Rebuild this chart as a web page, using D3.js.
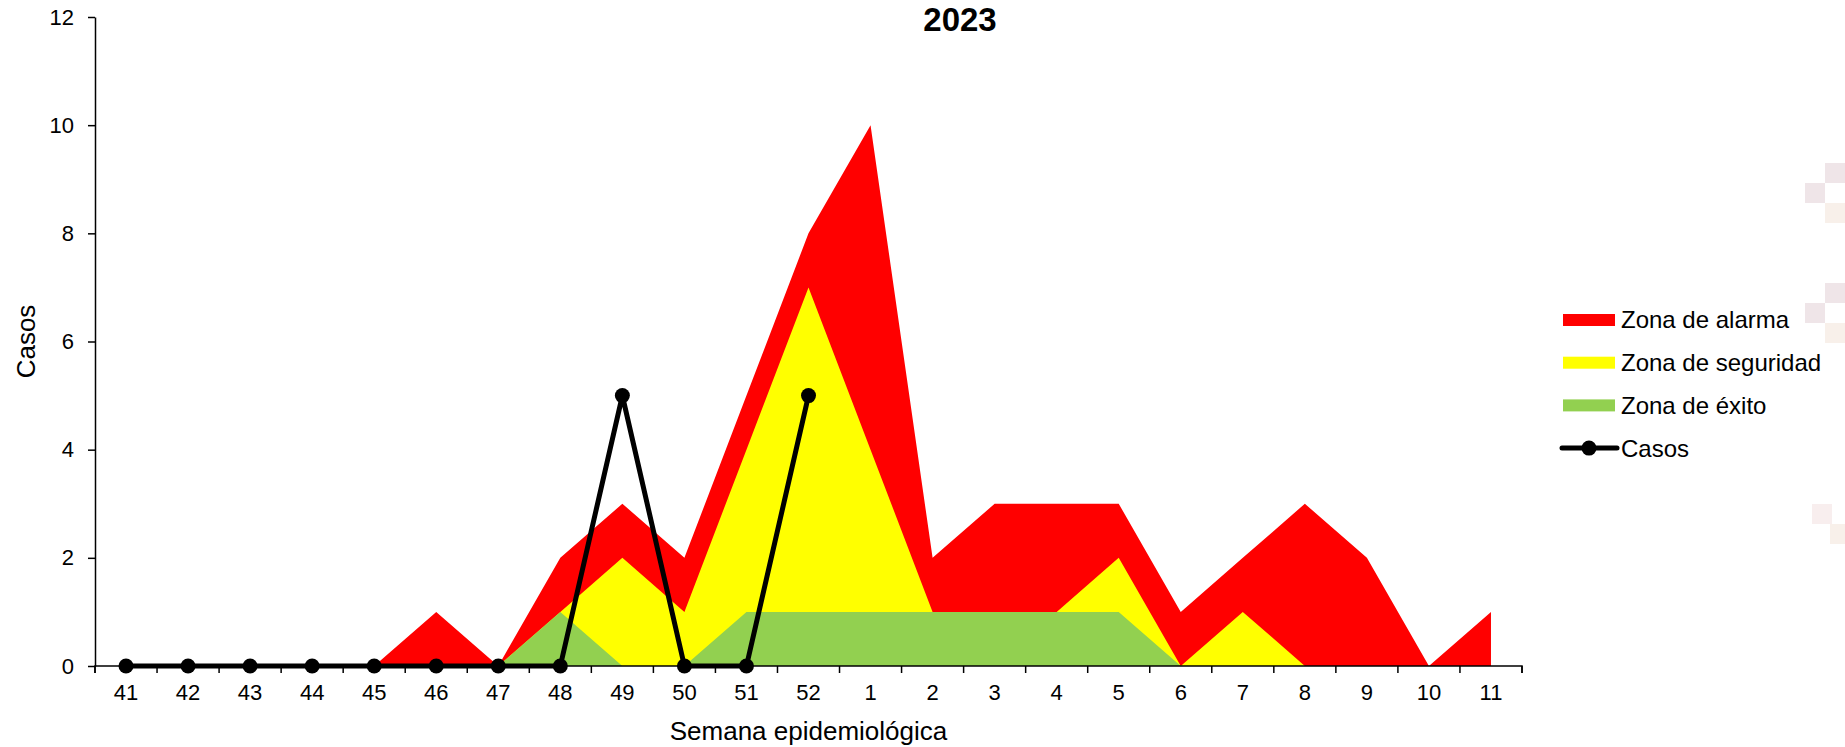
<!DOCTYPE html>
<html>
<head>
<meta charset="utf-8">
<script src="https://cdn.jsdelivr.net/npm/d3@7"></script>
<style>
  html, body { margin: 0; padding: 0; background: #fff; }
  svg { display: block; font-family: "Liberation Sans", Arial, sans-serif; }
</style>
</head>
<body>
<svg id="chart" width="1845" height="747"></svg>
<script>
const weeks = ["41","42","43","44","45","46","47","48","49","50","51","52","1","2","3","4","5","6","7","8","9","10","11"];
const alarma    = [0,0,0,0,0,1,0,2,3,2,5,8,10,2,3,3,3,1,2,3,2,0,1];
const seguridad = [0,0,0,0,0,0,0,1,2,1,4,7,4,1,1,1,2,0,1,0,0,0,0];
const exito     = [0,0,0,0,0,0,0,1,0,0,1,1,1,1,1,1,1,0,0,0,0,0,0];
const casos     = [0,0,0,0,0,0,0,0,5,0,0,5,null,null,null,null,null,null,null,null,null,null,null];
const yTicks = [0,2,4,6,8,10,12];
const title = "2023";
const xTitle = "Semana epidemiológica";
const yTitle = "Casos";
const legendLabels = ["Zona de alarma","Zona de seguridad","Zona de éxito","Casos"];

(function(){
const FONT = '"Liberation Sans", Arial, sans-serif';
const svg = d3.select("#chart");
const mL = 95, mR = 1522, mT = 17, mB = 666;

// faint watermark squares on right edge
const wm = [
  [1825,163,"#efe5e8"],[1805,183,"#efe5e8"],[1825,203,"#f8f0ea"],
  [1825,283,"#efe5e8"],[1805,303,"#efe5e8"],[1825,323,"#f8f0ea"],
  [1812,504,"#f8eeee"],[1830,524,"#f8f0ea"]
];
svg.selectAll("rect.wm").data(wm).enter().append("rect")
  .attr("class","wm").attr("x",d=>d[0]).attr("y",d=>d[1])
  .attr("width",20).attr("height",20).attr("fill",d=>d[2]);

const x = d3.scaleBand().domain(weeks).range([mL, mR]).padding(0);
const xc = w => x(w) + x.bandwidth()/2;
const y = d3.scaleLinear().domain([0,12]).range([mB, mT]);

function area(vals, color) {
  const a = d3.area()
    .x((d,i) => xc(weeks[i]))
    .y0(y(0))
    .y1(d => y(d));
  svg.append("path").datum(vals).attr("d", a).attr("fill", color);
}
area(alarma, "#FF0000");
area(seguridad, "#FFFF00");
area(exito, "#92D050");

// axes
const xAxis = d3.axisBottom(x).tickSize(7).tickSizeOuter(7).tickFormat(d=>d);
const gx = svg.append("g").attr("transform", `translate(0,${mB})`).call(xAxis)
  .attr("font-family", FONT).attr("font-size", 22);
gx.selectAll(".tick line").attr("x1", -x.bandwidth()/2).attr("x2", -x.bandwidth()/2)
  .attr("stroke","#000").attr("stroke-width",1.5);
gx.append("line").attr("x1", mR).attr("x2", mR).attr("y1",0).attr("y2",7)
  .attr("stroke","#000").attr("stroke-width",1.5);
gx.selectAll(".tick text").attr("font-size", 22).attr("fill","#000").attr("y", 13).attr("dy","0.95em");
gx.select(".domain").attr("stroke","#000").attr("stroke-width",1.5).attr("d", `M${mL},7V0H${mR}V7`);

const yAxis = d3.axisLeft(y).tickValues(yTicks).tickSize(7).tickSizeOuter(0);
const gy = svg.append("g").attr("transform", `translate(${mL},0)`).call(yAxis)
  .attr("font-family", FONT).attr("font-size", 22);
gy.select(".domain").attr("stroke","#000").attr("stroke-width",1.5);
gy.selectAll(".tick line").attr("stroke","#000").attr("stroke-width",1.5);
gy.selectAll(".tick text").attr("font-size", 22).attr("fill","#000").attr("x",-21);

// casos line
const line = d3.line().defined(d => d !== null).x((d,i) => xc(weeks[i])).y(d => y(d));
svg.append("path").datum(casos).attr("d", line).attr("fill","none")
  .attr("stroke","#000").attr("stroke-width",5).attr("stroke-linejoin","round");
svg.selectAll("circle.pt").data(casos.map((v,i)=>({v,w:weeks[i]})).filter(d=>d.v!==null))
  .enter().append("circle").attr("class","pt")
  .attr("cx", d=>xc(d.w)).attr("cy", d=>y(d.v)).attr("r",7.5).attr("fill","#000");

// titles
svg.append("text").attr("x", 960).attr("y", 31).attr("text-anchor","middle")
  .attr("font-size", 33).attr("font-weight","bold").text(title);
svg.append("text").attr("x", (mL+mR)/2).attr("y", 740).attr("text-anchor","middle")
  .attr("font-size", 26).text(xTitle);
svg.append("text").attr("transform", `translate(35,${(mT+mB)/2}) rotate(-90)`)
  .attr("text-anchor","middle").attr("font-size", 26).text(yTitle);

// legend
const legColors = ["#FF0000","#FFFF00","#92D050"];
const lg = svg.append("g");
legendLabels.forEach((lab,i) => {
  const cy = 320 + i*42.7;
  if (i < 3) {
    lg.append("rect").attr("x",1563).attr("y",cy-6).attr("width",52).attr("height",12).attr("fill",legColors[i]);
  } else {
    lg.append("line").attr("x1",1562).attr("x2",1617).attr("y1",cy).attr("y2",cy)
      .attr("stroke","#000").attr("stroke-width",5).attr("stroke-linecap","round");
    lg.append("circle").attr("cx",1589).attr("cy",cy).attr("r",7.5).attr("fill","#000");
  }
  lg.append("text").attr("x",1621).attr("y",cy).attr("dy","0.35em").attr("font-size",24).text(lab);
});
})();
</script>
</body>
</html>
